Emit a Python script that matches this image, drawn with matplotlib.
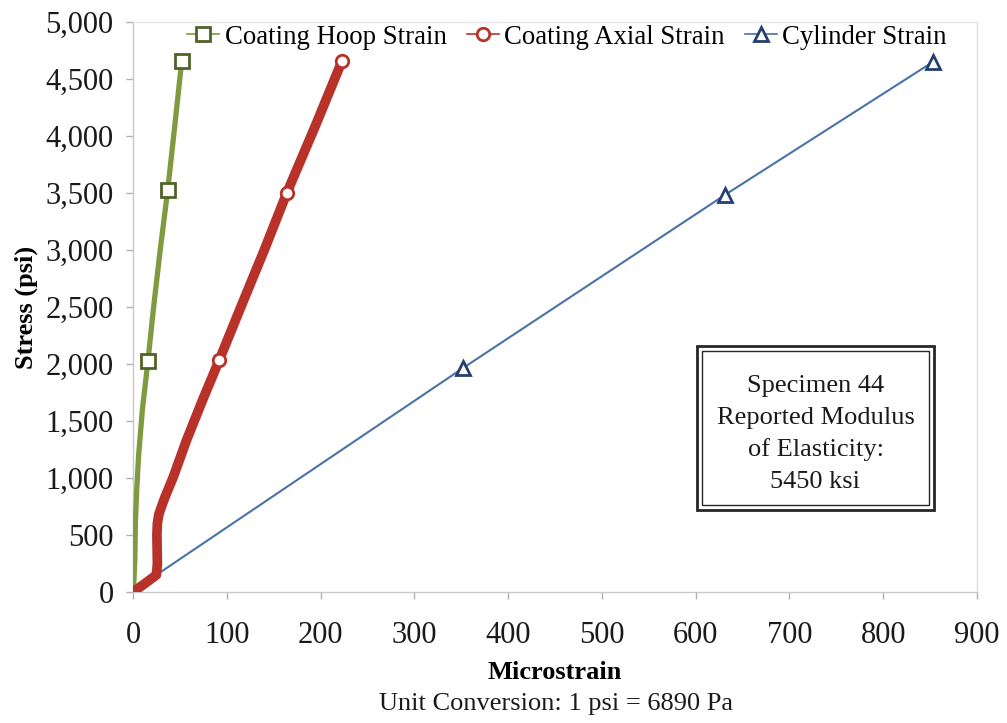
import matplotlib
matplotlib.use("Agg")
import matplotlib.pyplot as plt
from matplotlib.lines import Line2D
from matplotlib.patches import Rectangle
from matplotlib.ticker import FuncFormatter

plt.rcParams["font.family"] = ["Liberation Serif", "DejaVu Serif"]

# Coating hoop strain (microstrain) vs stress (psi)
hoop_strain = [0, 1, 2, 2.5, 4, 6, 10, 16, 22, 29, 37, 44, 52]
hoop_stress = [0, 100, 300, 600, 900, 1200, 1600, 2030, 2500, 3000, 3525, 4050, 4660]
hoop_marks = [7, 10, 12]

# Coating axial strain
axial_strain = [0, 12, 25, 26, 25.5, 26, 27.5, 30, 34, 43, 57, 74, 92, 116, 140, 164, 194, 223]
axial_stress = [0, 70, 150, 250, 500, 600, 680, 740, 830, 1010, 1330, 1680, 2035, 2520, 3000,
                3500, 4080, 4660]
axial_marks = [12, 15, 17]

# Cylinder strain
cyl_strain = [0, 25, 352, 631, 853]
cyl_stress = [0, 150, 1965, 3482, 4650]
cyl_marks = [2, 3, 4]

x_ticks = list(range(0, 901, 100))
y_ticks = list(range(0, 5001, 500))

specimen_note = "Specimen 44\nReported Modulus\nof Elasticity:\n5450 ksi"

W, H = 1007, 723
fig = plt.figure(figsize=(W / 100, H / 100), dpi=100)
ax = fig.add_axes([133 / W, 1 - 592 / H, (977 - 133) / W, (592 - 22) / H])

hoop_c, hoop_edge = "#7F9A3F", "#4F6228"
axial_c, axial_edge = "#B8322A", "#B8322A"
cyl_c, cyl_edge = "#4A72A8", "#24406E"

ax.plot(hoop_strain, hoop_stress, color=hoop_c, lw=3.8, solid_capstyle="round",
        solid_joinstyle="round",
        marker="s", markevery=hoop_marks, ms=10, mfc="white", mec=hoop_edge, mew=2, zorder=3)
ax.plot(axial_strain, axial_stress, color=axial_c, lw=7.0, solid_capstyle="round",
        solid_joinstyle="round",
        marker="o", markevery=axial_marks, ms=9, mfc="white", mec=axial_edge, mew=2, zorder=3)
ax.plot(cyl_strain, cyl_stress, color=cyl_c, lw=1.5,
        marker="^", markevery=cyl_marks, ms=10, mfc="white", mec=cyl_edge, mew=2, zorder=2)

ax.set_xlim(0, 900)
ax.set_ylim(0, 5000)
ax.set_xticks(x_ticks)
ax.set_yticks(y_ticks)
ax.yaxis.set_major_formatter(FuncFormatter(lambda v, p: f"{int(v):,}"))
ax.tick_params(axis="both", direction="out", length=5, width=1, color="#B0B0B0",
               labelsize=22, labelcolor="#1a1a1a")
ax.tick_params(axis="x", pad=16)
ax.tick_params(axis="y", pad=9)
for s in ax.spines.values():
    s.set_color("#C8C8C8")
    s.set_linewidth(1)
ax.spines["top"].set_color("#E6E6E6")
ax.spines["right"].set_color("#E0E0E0")

ax.set_xlabel("Microstrain", fontsize=19, fontweight="bold", labelpad=8)
ax.set_ylabel("Stress (psi)", fontsize=19, fontweight="bold", labelpad=5)
fig.text(556 / W, 1 - 704 / H, "Unit Conversion: 1 psi = 6890 Pa", fontsize=19,
         ha="center", va="center", color="#1a1a1a")

handles = [
    Line2D([], [], color=hoop_c, lw=1.2, marker="s", ms=10, mfc="white", mec=hoop_edge, mew=2),
    Line2D([], [], color=axial_c, lw=1.2, marker="o", ms=9, mfc="white", mec=axial_edge, mew=2),
    Line2D([], [], color=cyl_c, lw=1.2, marker="^", ms=10, mfc="white", mec=cyl_edge, mew=2),
]
labels = ["Coating Hoop Strain", "Coating Axial Strain", "Cylinder Strain"]
fig.legend(handles, labels, loc="center", bbox_to_anchor=(567 / W, 1 - 37 / H),
           ncol=3, frameon=False, fontsize=19.3, handlelength=1.2, handletextpad=0.2,
           columnspacing=0.75, borderaxespad=0)

# Double-bordered note box
x0, y0, x1, y1 = 697, 346, 934, 510
fig.patches.append(Rectangle((x0 / W, 1 - y1 / H), (x1 - x0) / W, (y1 - y0) / H,
                             transform=fig.transFigure, fill=True, facecolor="white",
                             edgecolor="#262626", lw=2.0, zorder=5))
d = 5
fig.patches.append(Rectangle(((x0 + d) / W, 1 - (y1 - d) / H), (x1 - x0 - 2 * d) / W,
                             (y1 - y0 - 2 * d) / H, transform=fig.transFigure, fill=False,
                             edgecolor="#262626", lw=1.0, zorder=6))
fig.text((x0 + x1) / 2 / W, 1 - 434 / H, specimen_note, fontsize=19, ha="center",
         va="center", linespacing=1.55, color="#1a1a1a", zorder=7)

fig.savefig("out.png", dpi=100, facecolor="white")
